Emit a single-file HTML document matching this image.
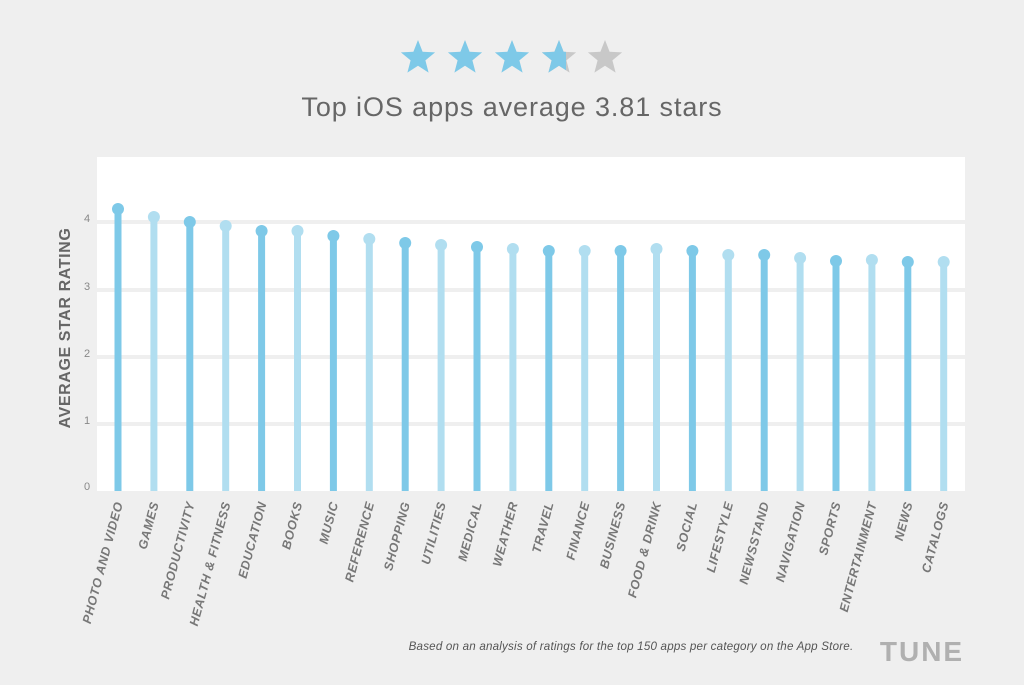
<!DOCTYPE html>
<html><head><meta charset="utf-8"><style>
html,body{margin:0;padding:0;background:#efefef;}
svg{display:block;font-family:"Liberation Sans",sans-serif;}
</style></head><body>
<svg width="1024" height="685" viewBox="0 0 1024 685" xmlns="http://www.w3.org/2000/svg">
<rect width="1024" height="685" fill="#efefef"/>
<defs>
<clipPath id="half"><rect x="-20" y="-20" width="27" height="40"/></clipPath>
</defs>
<g transform="translate(418,58)"><polygon points="0,-18 4.6,-6.3 17.1,-5.6 7.4,2.4 10.6,14.6 0,7.8 -10.6,14.6 -7.4,2.4 -17.1,-5.6 -4.6,-6.3" fill="#7ec9e8"/></g>
<g transform="translate(465,58)"><polygon points="0,-18 4.6,-6.3 17.1,-5.6 7.4,2.4 10.6,14.6 0,7.8 -10.6,14.6 -7.4,2.4 -17.1,-5.6 -4.6,-6.3" fill="#7ec9e8"/></g>
<g transform="translate(512,58)"><polygon points="0,-18 4.6,-6.3 17.1,-5.6 7.4,2.4 10.6,14.6 0,7.8 -10.6,14.6 -7.4,2.4 -17.1,-5.6 -4.6,-6.3" fill="#7ec9e8"/></g>
<g transform="translate(559,58)"><polygon points="0,-18 4.6,-6.3 17.1,-5.6 7.4,2.4 10.6,14.6 0,7.8 -10.6,14.6 -7.4,2.4 -17.1,-5.6 -4.6,-6.3" fill="#c8c8c8"/><polygon clip-path="url(#half)" points="0,-18 4.6,-6.3 17.1,-5.6 7.4,2.4 10.6,14.6 0,7.8 -10.6,14.6 -7.4,2.4 -17.1,-5.6 -4.6,-6.3" fill="#7ec9e8"/></g>
<g transform="translate(605,58)"><polygon points="0,-18 4.6,-6.3 17.1,-5.6 7.4,2.4 10.6,14.6 0,7.8 -10.6,14.6 -7.4,2.4 -17.1,-5.6 -4.6,-6.3" fill="#c8c8c8"/></g>
<text x="512" y="116" text-anchor="middle" font-size="27" letter-spacing="0.9" fill="#666">Top iOS apps average 3.81 stars</text>
<rect x="97" y="157" width="868" height="334" fill="#fff"/>
<g fill="#efefef">
<rect x="97" y="220" width="868" height="4"/>
<rect x="97" y="288" width="868" height="4"/>
<rect x="97" y="355" width="868" height="4"/>
<rect x="97" y="422" width="868" height="4"/>
</g>
<g font-size="11" fill="#888" text-anchor="middle">
<text x="87" y="222">4</text><text x="87" y="290">3</text><text x="87" y="357">2</text><text x="87" y="424">1</text><text x="87" y="490">0</text>
</g>
<text transform="translate(70,328) rotate(-90)" text-anchor="middle" font-size="16" font-weight="bold" letter-spacing="0.6" fill="#666">AVERAGE STAR RATING</text>
<g>
<rect x="114.5" y="209" width="7" height="282" fill="#7ec9e8"/><circle cx="118" cy="209" r="6" fill="#7ec9e8"/>
<rect x="150.4" y="217" width="7" height="274" fill="#b1def0"/><circle cx="153.9" cy="217" r="6" fill="#b1def0"/>
<rect x="186.3" y="222" width="7" height="269" fill="#7ec9e8"/><circle cx="189.8" cy="222" r="6" fill="#7ec9e8"/>
<rect x="222.2" y="226" width="7" height="265" fill="#b1def0"/><circle cx="225.7" cy="226" r="6" fill="#b1def0"/>
<rect x="258.1" y="231" width="7" height="260" fill="#7ec9e8"/><circle cx="261.6" cy="231" r="6" fill="#7ec9e8"/>
<rect x="294" y="231" width="7" height="260" fill="#b1def0"/><circle cx="297.5" cy="231" r="6" fill="#b1def0"/>
<rect x="329.9" y="236" width="7" height="255" fill="#7ec9e8"/><circle cx="333.4" cy="236" r="6" fill="#7ec9e8"/>
<rect x="365.8" y="239" width="7" height="252" fill="#b1def0"/><circle cx="369.3" cy="239" r="6" fill="#b1def0"/>
<rect x="401.7" y="243" width="7" height="248" fill="#7ec9e8"/><circle cx="405.2" cy="243" r="6" fill="#7ec9e8"/>
<rect x="437.6" y="245" width="7" height="246" fill="#b1def0"/><circle cx="441.1" cy="245" r="6" fill="#b1def0"/>
<rect x="473.5" y="247" width="7" height="244" fill="#7ec9e8"/><circle cx="477" cy="247" r="6" fill="#7ec9e8"/>
<rect x="509.4" y="249" width="7" height="242" fill="#b1def0"/><circle cx="512.9" cy="249" r="6" fill="#b1def0"/>
<rect x="545.3" y="251" width="7" height="240" fill="#7ec9e8"/><circle cx="548.8" cy="251" r="6" fill="#7ec9e8"/>
<rect x="581.2" y="251" width="7" height="240" fill="#b1def0"/><circle cx="584.7" cy="251" r="6" fill="#b1def0"/>
<rect x="617.1" y="251" width="7" height="240" fill="#7ec9e8"/><circle cx="620.6" cy="251" r="6" fill="#7ec9e8"/>
<rect x="653" y="249" width="7" height="242" fill="#b1def0"/><circle cx="656.5" cy="249" r="6" fill="#b1def0"/>
<rect x="688.9" y="251" width="7" height="240" fill="#7ec9e8"/><circle cx="692.4" cy="251" r="6" fill="#7ec9e8"/>
<rect x="724.8" y="255" width="7" height="236" fill="#b1def0"/><circle cx="728.3" cy="255" r="6" fill="#b1def0"/>
<rect x="760.7" y="255" width="7" height="236" fill="#7ec9e8"/><circle cx="764.2" cy="255" r="6" fill="#7ec9e8"/>
<rect x="796.6" y="258" width="7" height="233" fill="#b1def0"/><circle cx="800.1" cy="258" r="6" fill="#b1def0"/>
<rect x="832.5" y="261" width="7" height="230" fill="#7ec9e8"/><circle cx="836" cy="261" r="6" fill="#7ec9e8"/>
<rect x="868.4" y="260" width="7" height="231" fill="#b1def0"/><circle cx="871.9" cy="260" r="6" fill="#b1def0"/>
<rect x="904.3" y="262" width="7" height="229" fill="#7ec9e8"/><circle cx="907.8" cy="262" r="6" fill="#7ec9e8"/>
<rect x="940.2" y="262" width="7" height="229" fill="#b1def0"/><circle cx="943.7" cy="262" r="6" fill="#b1def0"/>
</g>
<g font-size="12.5" font-weight="bold" font-style="italic" fill="#777" text-anchor="end" letter-spacing="0.6">
<text transform="translate(123,503) rotate(-75)">PHOTO AND VIDEO</text>
<text transform="translate(158.9,503) rotate(-75)">GAMES</text>
<text transform="translate(194.8,503) rotate(-75)">PRODUCTIVITY</text>
<text transform="translate(230.7,503) rotate(-75)">HEALTH &amp; FITNESS</text>
<text transform="translate(266.6,503) rotate(-75)">EDUCATION</text>
<text transform="translate(302.5,503) rotate(-75)">BOOKS</text>
<text transform="translate(338.4,503) rotate(-75)">MUSIC</text>
<text transform="translate(374.3,503) rotate(-75)">REFERENCE</text>
<text transform="translate(410.2,503) rotate(-75)">SHOPPING</text>
<text transform="translate(446.1,503) rotate(-75)">UTILITIES</text>
<text transform="translate(482,503) rotate(-75)">MEDICAL</text>
<text transform="translate(517.9,503) rotate(-75)">WEATHER</text>
<text transform="translate(553.8,503) rotate(-75)">TRAVEL</text>
<text transform="translate(589.7,503) rotate(-75)">FINANCE</text>
<text transform="translate(625.6,503) rotate(-75)">BUSINESS</text>
<text transform="translate(661.5,503) rotate(-75)">FOOD &amp; DRINK</text>
<text transform="translate(697.4,503) rotate(-75)">SOCIAL</text>
<text transform="translate(733.3,503) rotate(-75)">LIFESTYLE</text>
<text transform="translate(769.2,503) rotate(-75)">NEWSSTAND</text>
<text transform="translate(805.1,503) rotate(-75)">NAVIGATION</text>
<text transform="translate(841,503) rotate(-75)">SPORTS</text>
<text transform="translate(876.9,503) rotate(-75)">ENTERTAINMENT</text>
<text transform="translate(912.8,503) rotate(-75)">NEWS</text>
<text transform="translate(948.7,503) rotate(-75)">CATALOGS</text>
</g>
<text x="631" y="650" text-anchor="middle" font-size="11.6" font-style="italic" fill="#555" letter-spacing="0.2">Based on an analysis of ratings for the top 150 apps per category on the App Store.</text>
<text x="922" y="661" text-anchor="middle" font-size="28" font-weight="bold" fill="#b0b0b0" letter-spacing="2">TUNE</text>
</svg>
</body></html>
